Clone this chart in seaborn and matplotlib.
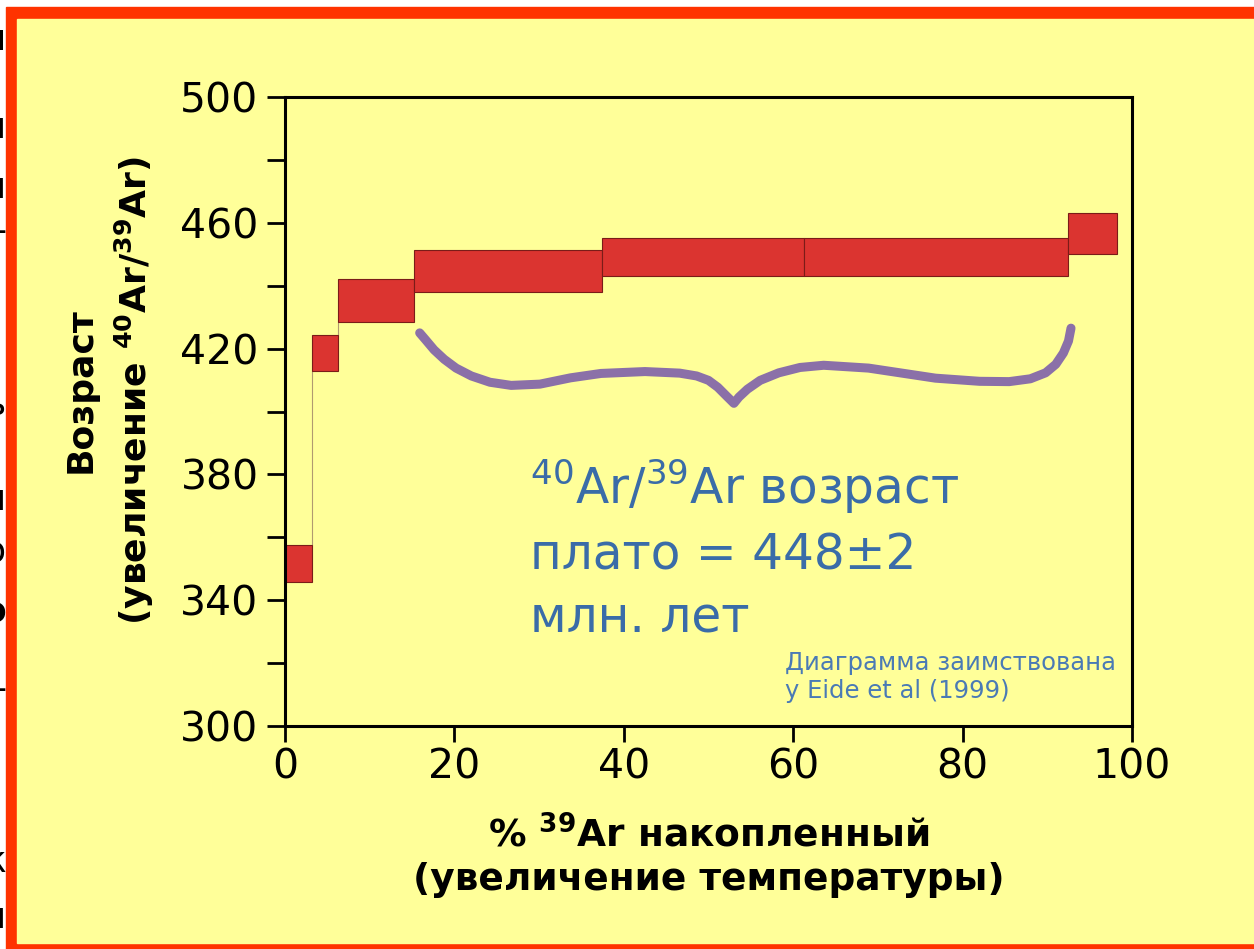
import matplotlib
matplotlib.use("Agg")
import matplotlib.pyplot as plt
from matplotlib.patches import Rectangle
import seaborn as sns
import pandas as pd

# step-heating data
cum_ar39 = [0, 3.2, 6.3, 15.2, 37.4, 61.3, 92.4, 98.2]   # step boundaries, % 39Ar
age_low = [345.7, 412.9, 428.3, 437.9, 443.1, 443.1, 450.1]
age_high = [357.6, 424.3, 442.0, 451.4, 455.1, 455.1, 463.2]

# plateau brace outline
brace_x = [15.9, 16.6, 17.6, 18.8, 20.2, 22.0, 24.2, 26.7, 30.1, 33.7, 37.3,
           42.5, 46.6, 48.6, 50.0, 51.1, 52.1, 53.0, 53.6, 54.6, 56.1, 58.3,
           60.8, 63.6, 68.9, 76.8, 82.0, 85.5, 88.0, 89.8, 91.0, 91.9, 92.5, 92.8]
brace_y = [425.0, 422.8, 419.6, 416.6, 413.8, 411.3, 409.3, 408.3, 408.7, 410.7,
           412.1, 412.7, 412.2, 411.3, 409.9, 407.7, 405.0, 402.6, 404.6, 407.1,
           409.9, 412.3, 414.0, 414.7, 413.8, 410.6, 409.6, 409.5, 410.4, 412.3,
           415.0, 418.6, 422.4, 426.5]

y_major = [300, 340, 380, 420, 460, 500]
y_minor = [320, 360, 400, 440, 480]
x_ticks = [0, 20, 40, 60, 80, 100]

YELLOW = "#ffff99"
RED_FRAME = "#ff3300"

sns.set_style("ticks")
plt.rcParams["font.family"] = ["DejaVu Sans"]
plt.rcParams["mathtext.fontset"] = "dejavusans"
for k in ["text.color", "axes.labelcolor", "xtick.color", "ytick.color",
          "xtick.labelcolor", "ytick.labelcolor"]:
    plt.rcParams[k] = "black"

W, H = 1254, 949
fig = plt.figure(figsize=(W / 100, H / 100), dpi=100)
fig.patch.set_facecolor("white")

# slide frame
fig.add_artist(Rectangle((6 / W, 0), (W - 6) / W, (H - 7) / H,
                         transform=fig.transFigure, color=RED_FRAME, zorder=-10))
fig.add_artist(Rectangle((17 / W, 6 / H), (W - 17) / W, (H - 19 - 6) / H,
                         transform=fig.transFigure, color=YELLOW, zorder=-9))

# clipped bits of the neighbouring slide on the left edge
for ch, py, wt in [("ч", 40, "normal"), ("п", 128, "bold"), ("п", 188, "bold"),
                   ("—", 232, "normal"), ("ь", 405, "normal"), ("п", 500, "bold"),
                   ("о", 552, "normal"), ("о", 612, "bold"), ("—", 690, "normal"),
                   ("к", 862, "normal"), ("н", 918, "bold")]:
    fig.text(6 / W, 1 - py / H, ch, ha="right", va="center", fontsize=26,
             fontweight=wt, color="black", zorder=-11)

ax = fig.add_axes([285 / W, 1 - 726 / H, (1132 - 285) / W, (726 - 97) / H])
ax.set_facecolor(YELLOW)

df = pd.DataFrame({
    "left": cum_ar39[:-1],
    "width": [b - a for a, b in zip(cum_ar39[:-1], cum_ar39[1:])],
    "low": age_low,
    "high": age_high,
})

# thin connectors between steps
for i in range(1, len(df)):
    ax.plot([df.left[i], df.left[i]], [df.high[i - 1], df.low[i]],
            color="#b09a70", lw=0.8, zorder=1)

ax.bar(df.left, df.high - df.low, width=df.width, bottom=df.low, align="edge",
       color="#db3430", edgecolor="#7a1c18", linewidth=0.8, zorder=2)

sns.lineplot(x=brace_x, y=brace_y, sort=False, ax=ax, color="#8b70a8", lw=6.5,
             solid_capstyle="round", solid_joinstyle="round", zorder=3)

ax.set_xlim(0, 100)
ax.set_ylim(300, 500)
ax.set_xticks(x_ticks)
ax.set_yticks(y_major)
ax.set_yticks(y_minor, minor=True)
ax.tick_params(axis="y", which="both", length=13, width=2, direction="out",
               labelsize=29.5, pad=6)
ax.tick_params(axis="x", length=11.5, width=2, direction="out",
               labelsize=29.5, pad=4)
for sp in ax.spines.values():
    sp.set_visible(True)
    sp.set_linewidth(2.2)
    sp.set_color("black")
ax.set_xlabel("")
ax.set_ylabel("")

def px_ax(px, py):
    return (px - 285) / (1132 - 285), (726 - py) / (726 - 97)

ax.text(*px_ax(530, 550),
        "$^{40}$Ar/$^{39}$Ar возраст\nплато = 448±2\nмлн. лет", transform=ax.transAxes,
        ha="left", va="center", fontsize=35, color="#3a6ca8", linespacing=1.4)
ax.text(*px_ax(785, 677),
        "Диаграмма заимствована\nу Eide et al (1999)", transform=ax.transAxes,
        ha="left", va="center", fontsize=17.5, color="#4a7ab5", linespacing=1.2)

fig.text(110 / W, 1 - 390 / H,
         "Возраст\n(увеличение $^{\\mathbf{40}}$Ar/$^{\\mathbf{39}}$Ar)", rotation=90,
         ha="center", va="center", multialignment="center", fontsize=26,
         fontweight="bold", linespacing=1.45)
fig.text(709 / W, 1 - 857 / H,
         "% $^{\\mathbf{39}}$Ar накопленный\n(увеличение температуры)",
         ha="center", va="center", multialignment="center", fontsize=27,
         fontweight="bold", linespacing=1.25)

fig.savefig("out.png", dpi=100, facecolor=fig.get_facecolor())
